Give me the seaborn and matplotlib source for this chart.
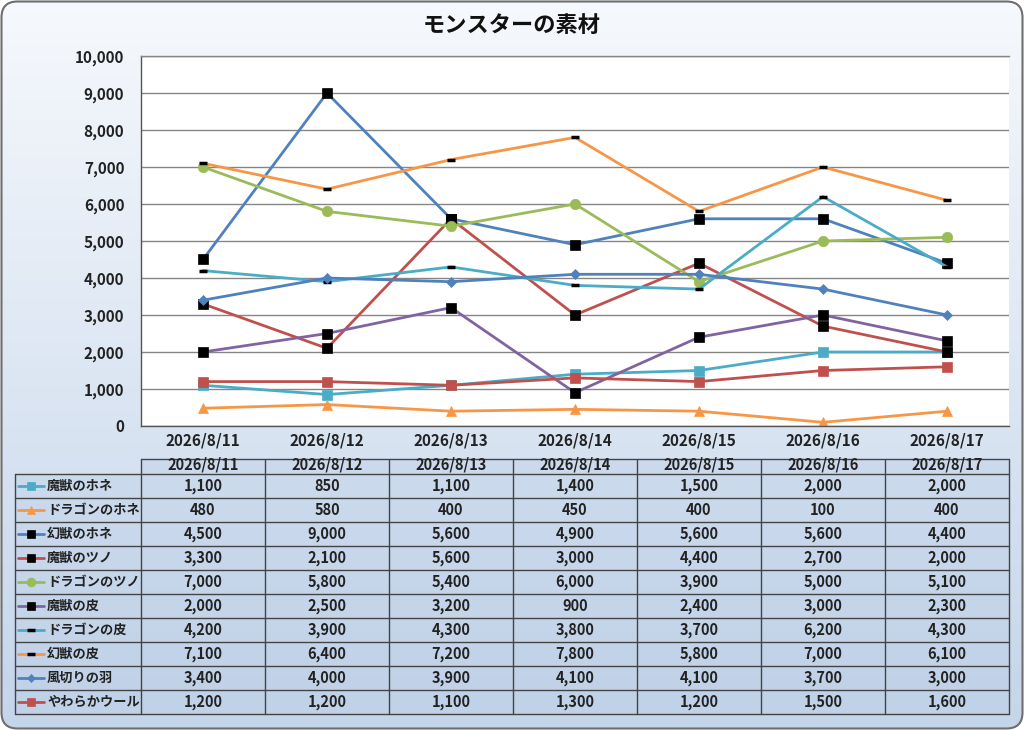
import numpy as np
import pandas as pd
import matplotlib
matplotlib.use('Agg')
import matplotlib.pyplot as plt
import seaborn as sns
from matplotlib.patches import FancyBboxPatch
from matplotlib.lines import Line2D
from matplotlib.ticker import FuncFormatter

#%% Data
dates = ['2026/8/11', '2026/8/12', '2026/8/13', '2026/8/14', '2026/8/15', '2026/8/16', '2026/8/17']
names = ['魔獣のホネ', 'ドラゴンのホネ', '幻獣のホネ', '魔獣のツノ', 'ドラゴンのツノ',
         '魔獣の皮', 'ドラゴンの皮', '幻獣の皮', '風切りの羽', 'やわらかウール']
majuu_hone = [1100, 850, 1100, 1400, 1500, 2000, 2000]
dragon_hone = [480, 580, 400, 450, 400, 100, 400]
genjuu_hone = [4500, 9000, 5600, 4900, 5600, 5600, 4400]
majuu_tsuno = [3300, 2100, 5600, 3000, 4400, 2700, 2000]
dragon_tsuno = [7000, 5800, 5400, 6000, 3900, 5000, 5100]
majuu_kawa = [2000, 2500, 3200, 900, 2400, 3000, 2300]
dragon_kawa = [4200, 3900, 4300, 3800, 3700, 6200, 4300]
genjuu_kawa = [7100, 6400, 7200, 7800, 5800, 7000, 6100]
kazekiri = [3400, 4000, 3900, 4100, 4100, 3700, 3000]
wool = [1200, 1200, 1100, 1300, 1200, 1500, 1600]
values = [majuu_hone, dragon_hone, genjuu_hone, majuu_tsuno, dragon_tsuno,
          majuu_kawa, dragon_kawa, genjuu_kawa, kazekiri, wool]

teal, orange, blue, red, green, purple = '#4BACC6', '#F79646', '#4F81BD', '#C0504D', '#9BBB59', '#8064A2'
# (line color, marker, marker size, face color, edge color, edge width)
styles = [
    (teal, 's', 7, teal, teal, 0.5),
    (orange, '^', 7, orange, orange, 0.5),
    (blue, 's', 7.5, 'black', 'black', 0.5),
    (red, 's', 7.5, 'black', 'black', 0.5),
    (green, 'o', 7.5, green, green, 0.5),
    (purple, 's', 7.5, 'black', 'black', 0.5),
    (teal, '_', 6, 'black', 'black', 2.5),
    (orange, '_', 6, 'black', 'black', 2.5),
    (blue, 'D', 5, blue, blue, 0.5),
    (red, 's', 7, red, red, 0.5),
]

#%% Figure
sns.set_theme(style='white')
plt.rcParams['font.family'] = ['Noto Sans CJK JP', 'DejaVu Sans']
txt_w = 'bold'
txt_c = '#222222'

W, H = 1024, 730
fig = plt.figure(figsize=(W / 100, H / 100), dpi=100)

# background with gradient, in pixel coordinates
bg = fig.add_axes([0, 0, 1, 1], zorder=0)
bg.set_xlim(0, W)
bg.set_ylim(H, 0)
bg.axis('off')
frame = FancyBboxPatch((1.5, 1.5), W - 3, H - 3, boxstyle='round,pad=0,rounding_size=16',
                       facecolor='none', edgecolor='#6f6f6f', linewidth=1.5, zorder=5)
bg.add_patch(frame)
grad = np.linspace(0, 1, 256).reshape(-1, 1)
top_c = np.array([0.965, 0.975, 0.99])
bot_c = np.array([0.77, 0.835, 0.92])
img = top_c + (bot_c - top_c) * grad[..., None]
im = bg.imshow(img, extent=[0, W, H, 0], aspect='auto', zorder=1)
im.set_clip_path(frame)

bg.text(W / 2, 25, 'モンスターの素材', ha='center', va='center', fontsize=16,
        fontweight='bold', color='#111111', zorder=6)

#%% Data table
x_left, x_right = 141, 1009
col_w = (x_right - x_left) / len(dates)
head_top, body_top, row_h = 459, 474, 24
body_bot = body_top + row_h * len(names)
lc = '#444444'
bg.add_patch(plt.Rectangle((x_left, head_top), x_right - x_left, body_top - head_top,
                           facecolor='#b5c9e3', edgecolor='none', alpha=0.3, zorder=2))
bg.add_patch(plt.Rectangle((15, body_top), x_right - 15, body_bot - body_top,
                           facecolor='#b5c9e3', edgecolor='none', alpha=0.3, zorder=2))
bg.plot([x_left, x_right], [head_top, head_top], color=lc, lw=1, zorder=3)
for i in range(len(names) + 1):
    y = body_top + row_h * i
    bg.plot([15, x_right], [y, y], color=lc, lw=1, zorder=3)
bg.plot([15, 15], [body_top, body_bot], color=lc, lw=1, zorder=3)
for k in range(len(dates) + 1):
    x = x_left + col_w * k
    bg.plot([x, x], [head_top, body_bot], color=lc, lw=1, zorder=3)
for k, d in enumerate(dates):
    bg.text(x_left + col_w * (k + 0.5), 465, d, ha='center', va='center',
            fontsize=10.5, fontweight=txt_w, color=txt_c, zorder=4)
for i, (name, vals, st) in enumerate(zip(names, values, styles)):
    yc = body_top + row_h * (i + 0.5)
    color, mk, ms, mfc, mec, mew = st
    bg.add_line(Line2D([18, 31, 44], [yc, yc, yc], color=color, lw=2, marker=mk,
                       markevery=[1], markersize=ms * 0.85, markerfacecolor=mfc,
                       markeredgecolor=mec, markeredgewidth=mew, zorder=4))
    bg.text(47, yc, name, ha='left', va='center', fontsize=9.5, fontweight=txt_w,
            color=txt_c, zorder=4)
    for k, v in enumerate(vals):
        bg.text(x_left + col_w * (k + 0.5), yc, f'{v:,}', ha='center', va='center',
                fontsize=10.5, fontweight=txt_w, color=txt_c, zorder=4)

#%% Line chart
plot_top, plot_bot = 56, 426
ax = fig.add_axes([x_left / W, (H - plot_bot) / H, (x_right - x_left) / W,
                   (plot_bot - plot_top) / H], zorder=2)
ax.set_facecolor('white')
pos = np.arange(len(dates))
for name, vals, st in zip(names, values, styles):
    color, mk, ms, mfc, mec, mew = st
    sns.lineplot(x=pos, y=vals, ax=ax, color=color, linewidth=2, marker=mk,
                 markersize=ms, markerfacecolor=mfc, markeredgecolor=mec,
                 markeredgewidth=mew, label=name, legend=False)

ax.set_xlim(-0.5, len(dates) - 0.5)
ax.set_ylim(0, 10000)
ax.set_yticks(np.arange(0, 10001, 1000))
ax.yaxis.set_major_formatter(FuncFormatter(lambda v, p: f'{int(v):,}'))
ax.set_xticks(pos)
ax.set_xticklabels(dates)
ax.tick_params(axis='both', length=0, labelsize=11, colors=txt_c)
for lab in ax.get_xticklabels() + ax.get_yticklabels():
    lab.set_fontweight(txt_w)
ax.tick_params(axis='y', pad=12)
ax.tick_params(axis='x', pad=5)
ax.grid(axis='y', color='#868686', linewidth=1)
ax.set_axisbelow(True)
for side in ['left', 'bottom', 'top']:
    ax.spines[side].set_color('#868686')
    ax.spines[side].set_linewidth(1)
ax.spines['left'].set_color('#555555')
ax.spines['bottom'].set_color('#555555')
ax.spines['right'].set_visible(False)
ax.set_xlabel('')
ax.set_ylabel('')

fig.savefig('out.png', dpi=100)
